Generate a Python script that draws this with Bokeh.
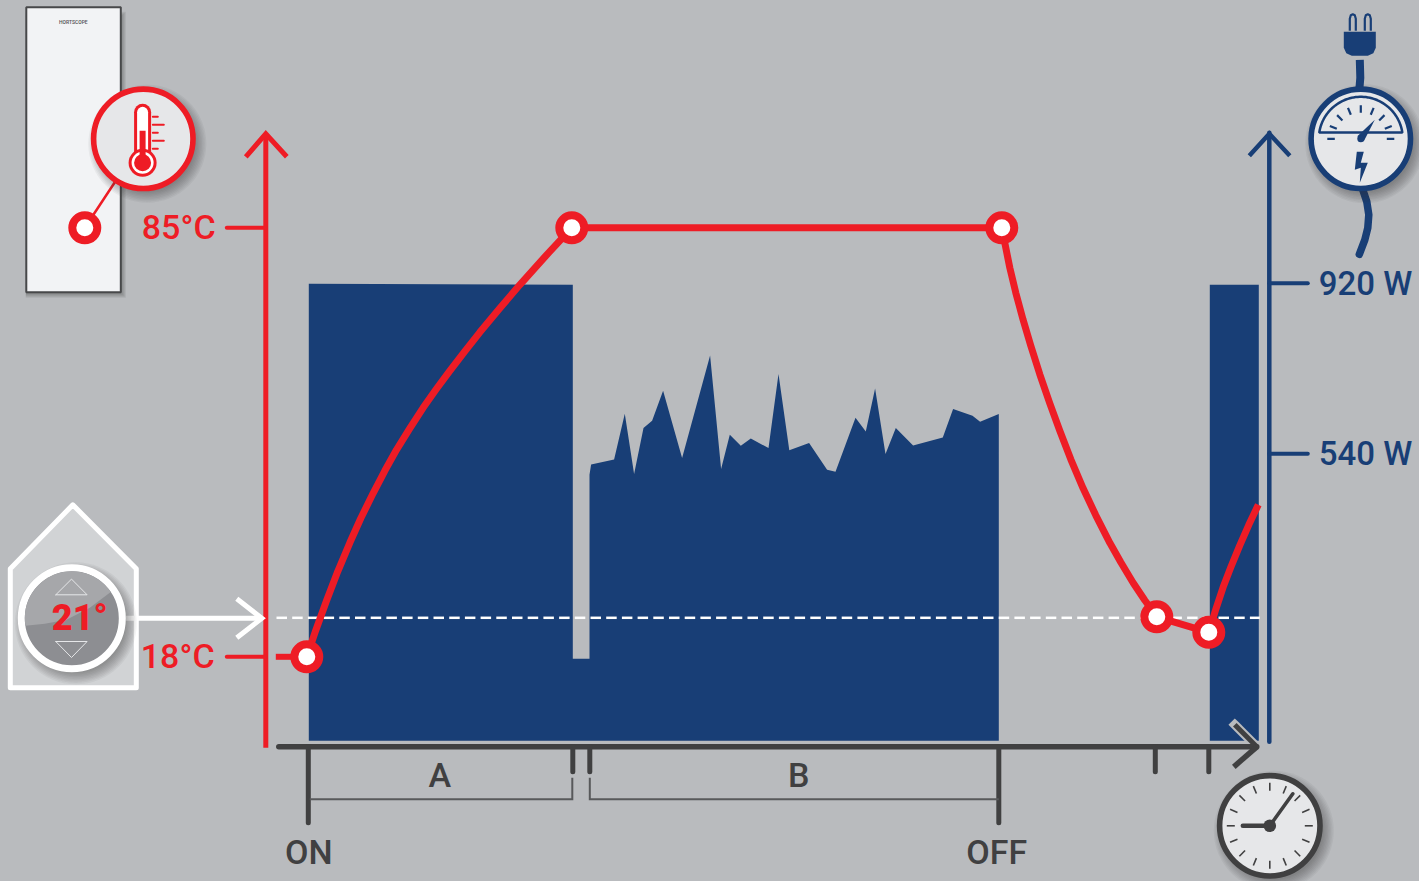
import numpy as np
from bokeh.core.properties import value
from bokeh.embed import file_html
from bokeh.models import Range1d
from bokeh.plotting import figure
from bokeh.resources import INLINE

# ---------- colours ----------
BG = "#b9bbbe"
RED = "#ee1c25"
BLUE = "#183e76"
DARK = "#404041"
PANEL = "#e6e7e9"
FONT = "Roboto Medium"

# ---------- power (blue area) ----------
power_first_x = [309, 573, 573, 589.7]
power_first_y = [284, 285, 659, 659]
power_x = [589.7, 591.3, 614.3, 625, 634.3, 643.7, 652.3, 663.3, 682.3, 710.3, 721.3, 730, 741, 751,
           768.7, 778.7, 789.5, 809.3, 827.3, 835.7, 855.7, 866, 875.3, 885.7, 896, 913.3, 943,
           953.3, 972.7, 980.3, 999]
power_y = [475, 464.7, 459.7, 414, 474.3, 428.3, 421, 391, 458.3, 355.7, 469.3, 435, 446, 438.7,
           448.3, 374.3, 450.4, 443.3, 470, 472, 418, 431.7, 388.7, 454.3, 428.3, 445.7, 437.7,
           409.3, 416, 422, 414.3]
power_base = 741
second_run_x = [1210, 1259]
second_run_top = 285

# ---------- temperature (red curve) ----------
heat_x = [307, 316, 326.7, 338, 350, 361, 373.3, 385, 396.7, 410, 423.3, 436, 450, 465, 480, 500, 520, 546, 572]
heat_y = [657, 630.4, 601, 571.5, 543, 518.5, 493.5, 471, 450, 428.5, 408, 390, 371, 351.5, 332.5, 308.5, 285, 256, 228]
hold_x = [572, 1002]
hold_y = [228, 228]
cool_x = [1002, 1010, 1016, 1023.3, 1031, 1040, 1050, 1060, 1071, 1083.3, 1096, 1110, 1121, 1133.3, 1145, 1157]
cool_y = [228, 268, 293, 320, 346, 374.5, 403.5, 431, 459.5, 488.5, 515.5, 543, 562.5, 583, 600.5, 617]
dip_x = [1157, 1209]
dip_y = [617, 632.5]
reheat_x = [1209, 1216, 1223.3, 1231, 1240, 1249, 1258.5]
reheat_y = [632.5, 609.5, 587.5, 567.5, 545.5, 525, 505]
marker_x = [307, 572, 1002, 1157, 1209]
marker_y = [657, 228, 228, 617, 632.5]
setpoint_y = 618

# ---------- labels ----------
temp_labels = ["85°C", "18°C"]
temp_label_y = [228, 657]
power_labels = ["920 W", "540 W"]
power_label_y = [283.5, 454]
phase_labels = ["A", "B"]
phase_label_x = [440, 799]
state_labels = ["ON", "OFF"]
state_label_x = [309, 997]
long_ticks = [308.5, 999]
short_ticks = [573, 590, 1155.5, 1209]

p = figure(width=1419, height=881, x_range=Range1d(0.7, 1419.7), y_range=Range1d(881.7, 0.7),
           toolbar_location=None, output_backend="svg", min_border=0,
           background_fill_color=BG, border_fill_color=BG, outline_line_color=None)
p.axis.visible = False
p.grid.visible = False


def line(xs, ys, color, width, cap="round", join="miter"):
    p.line(xs, ys, line_color=color, line_width=width, line_cap=cap, line_join=join)


def disc(x, y, r, fill, stroke=None, width=0):
    p.circle([x], [y], radius=r, fill_color=fill, line_color=stroke, line_width=width)


def shadow(x, y, r):
    for i in range(9):
        p.circle([x + 4], [y + 5], radius=r + 7 - i * 1.4, fill_color="#3a3a3c",
                 fill_alpha=0.055, line_color=None)


def label(x, y, text, color, size=34, align="left", style="normal", font=FONT):
    p.text([x], [y], text=[text], text_color=color, text_font=value(font),
           text_font_size=f"{size}px", text_align=align, text_baseline="middle",
           text_font_style=style)


# ---------- heater device ----------
for i in range(6):
    p.quad(left=[26], right=[126 - i], top=[12 + i], bottom=[298 - i],
           fill_color="#3a3a3c", fill_alpha=0.09, line_color=None)
p.quad(left=[26.5], right=[121], top=[7.5], bottom=[292.5], fill_color="#f2f3f5",
       line_color="#47484a", line_width=2)
label(73.5, 22, "HORTSCOPE", "#555555", size=5, align="center")

# ---------- power area ----------
area_x = power_first_x + power_x + [power_x[-1], power_first_x[0]]
area_y = power_first_y + power_y + [power_base, power_base]
p.patch(area_x, area_y, fill_color=BLUE, line_color=None)
p.quad(left=[second_run_x[0]], right=[second_run_x[1]], top=[second_run_top], bottom=[power_base],
       fill_color=BLUE, line_color=None)

# ---------- set point dashes ----------
dash_x = np.arange(276.7, 1255, 15.7)
p.segment(dash_x, setpoint_y, np.minimum(dash_x + 10.5, 1260), setpoint_y, line_color="#ffffff", line_width=2.5)

# ---------- temperature axis ----------
line([266, 266], [134, 748], RED, 5, cap="butt")
line([246, 266, 287], [157, 134, 157], RED, 5, cap="butt")
line([227, 266], [temp_label_y[0]] * 2, RED, 4)
line([227, 266], [temp_label_y[1]] * 2, RED, 4)
line([276, 307], [temp_label_y[1]] * 2, RED, 6, cap="butt")
label(142, 227, temp_labels[0], RED)
label(141, 656, temp_labels[1], RED)

# ---------- power axis ----------
line([1269.5, 1269.5], [133, 742], BLUE, 4.5)
line([1249.5, 1269.5, 1290], [156, 134, 156], BLUE, 4.5, cap="butt")
for y, t in zip(power_label_y, power_labels):
    line([1269.5, 1308], [y, y], BLUE, 4)
    label(1319, y, t, BLUE, size=33)

# ---------- time axis ----------
line([1235, 1257], [725, 747], BG, 9, cap="square")
line([1235, 1257], [725, 747], DARK, 5, cap="butt")
line([279, 1257], [747, 747], DARK, 5.5)
line([1234, 1257], [767, 747], DARK, 5.5, cap="butt")
for x in long_ticks:
    line([x, x], [747, 823], DARK, 5)
for x in short_ticks:
    line([x, x], [747, 772], DARK, 5)
line([310, 572.5, 572.5], [799.5, 799.5, 778], "#58595b", 2, cap="butt")
line([590, 590, 999], [778, 799.5, 799.5], "#58595b", 2, cap="butt")
for x, t in zip(phase_label_x, phase_labels):
    label(x, 775, t, DARK, align="center")
for x, t in zip(state_label_x, state_labels):
    label(x, 852.5, t, DARK, align="center")

# ---------- temperature curve ----------
line(heat_x, heat_y, RED, 7, join="round")
line(hold_x, hold_y, RED, 7)
line(cool_x, cool_y, RED, 7, join="round")
line(dip_x, dip_y, RED, 7)
line(reheat_x, reheat_y, RED, 7, cap="butt", join="round")
p.circle(marker_x, marker_y, radius=12.5, fill_color="#ffffff", line_color=RED, line_width=8)

# ---------- thermometer badge ----------
line([85, 116], [228, 181], RED, 2.5)
disc(85, 228, 12.5, "#ffffff", RED, 8)
shadow(143.5, 139, 52)
disc(143.5, 139, 49.7, PANEL, RED, 5.6)
line([142.8, 142.8], [112.5, 160], RED, 17)
line([142.8, 142.8], [112.5, 160], "#ffffff", 11)
disc(142.8, 163, 14, RED)
disc(142.8, 163, 11, "#ffffff")
disc(142.8, 163, 8.5, RED)
line([142.8, 142.8], [131, 160], RED, 6, cap="butt")
for y, x1 in zip([117, 125, 133, 141, 149], [158, 164, 158, 164, 158]):
    line([153, x1], [y, y], RED, 2)

# ---------- thermostat in the house ----------
p.patch([10.5, 10.5, 73, 136.5, 136.5], [688, 569, 505, 569, 688], fill_color="#d1d3d5",
        line_color="#ffffff", line_width=5, line_join="round")
line([126, 262], [618.5, 618.5], "#ffffff", 5, cap="butt")
line([237, 262, 237], [599, 618.5, 638], "#ffffff", 5, cap="butt")
shadow(72, 618.5, 54)
disc(72, 618.5, 50.5, "#8d8e92", "#ffffff", 7)
gloss_a = np.radians(np.linspace(171, 326, 50))
gloss_x = list(72 + 47 * np.cos(gloss_a))
gloss_y = list(618.5 + 47 * np.sin(gloss_a))
p.patch(gloss_x + [90, 66.7, 45], gloss_y + [608, 620, 624], fill_color="#a6a7aa", line_color=None)
line([56, 71.7, 87.3, 56], [595, 579.3, 595, 595], "#e6e7e9", 1)
line([56, 71.7, 87.3, 56], [641.7, 657.7, 641.7, 641.7], "#e6e7e9", 1)
label(80, 618, "21°", RED, size=36, align="center", font="Roboto Black")

# ---------- power meter ----------
line([1360, 1360.5, 1359.5], [60, 78, 90], BLUE, 8, cap="butt", join="round")
line([1363, 1367, 1369, 1368, 1365, 1359.5], [190, 202, 215, 228, 240, 254.5], BLUE, 7.5, join="round")
p.patch([1344, 1376, 1376, 1373.5, 1368, 1352, 1346.5, 1344], [32, 32, 48, 53.5, 56, 56, 53.5, 48],
        fill_color=BLUE, line_color=None)
for dx in (0, 15):
    line(np.array([1350, 1350, 1351, 1353, 1355, 1356, 1356]) + dx, [31, 19, 15.5, 14.5, 15.5, 19, 31], BLUE, 2.2,
         cap="butt", join="round")
shadow(1361, 139, 52.5)
disc(1361, 139, 49.7, PANEL, BLUE, 5.6)
dial_a = np.radians(np.linspace(188.5, 351.5, 60))
p.patch(1361 + 42 * np.cos(dial_a), 139 + 42 * np.sin(dial_a), fill_color=PANEL, line_color=BLUE, line_width=2.5)
for a in np.radians(np.arange(180, 361, 22.5)):
    line([1361 + 26 * np.cos(a), 1361 + 33.5 * np.cos(a)], [139 + 26 * np.sin(a), 139 + 33.5 * np.sin(a)], BLUE, 2.2,
         cap="butt")
p.patch([1357.5, 1375, 1364], [136.5, 120, 141.5], fill_color=BLUE, line_color=None)
disc(1361, 139, 3.5, BLUE)
p.patch([1357, 1364, 1361, 1368, 1360, 1361, 1355], [152, 152, 163, 163, 183, 168, 170],
        fill_color=BLUE, line_color=None)

# ---------- clock ----------
shadow(1270, 826, 53)
disc(1270, 826, 50.2, PANEL, DARK, 5.6)
for a in np.radians(np.arange(0, 360, 22.5)):
    line([1270 + 35 * np.cos(a), 1270 + 43 * np.cos(a)], [826 + 35 * np.sin(a), 826 + 43 * np.sin(a)], DARK, 1.6,
         cap="butt")
line([1243, 1270], [826, 826], DARK, 4.5)
line([1270, 1293], [826, 794], DARK, 3.6)
disc(1270, 826, 6.3, DARK)

TEMPLATE = """{% block postamble %}<style>html,body{background:#b9bbbe;overflow:hidden;margin:0}</style>{% endblock %}
"""
open("out.html", "w").write(file_html(p, INLINE, template=TEMPLATE))
